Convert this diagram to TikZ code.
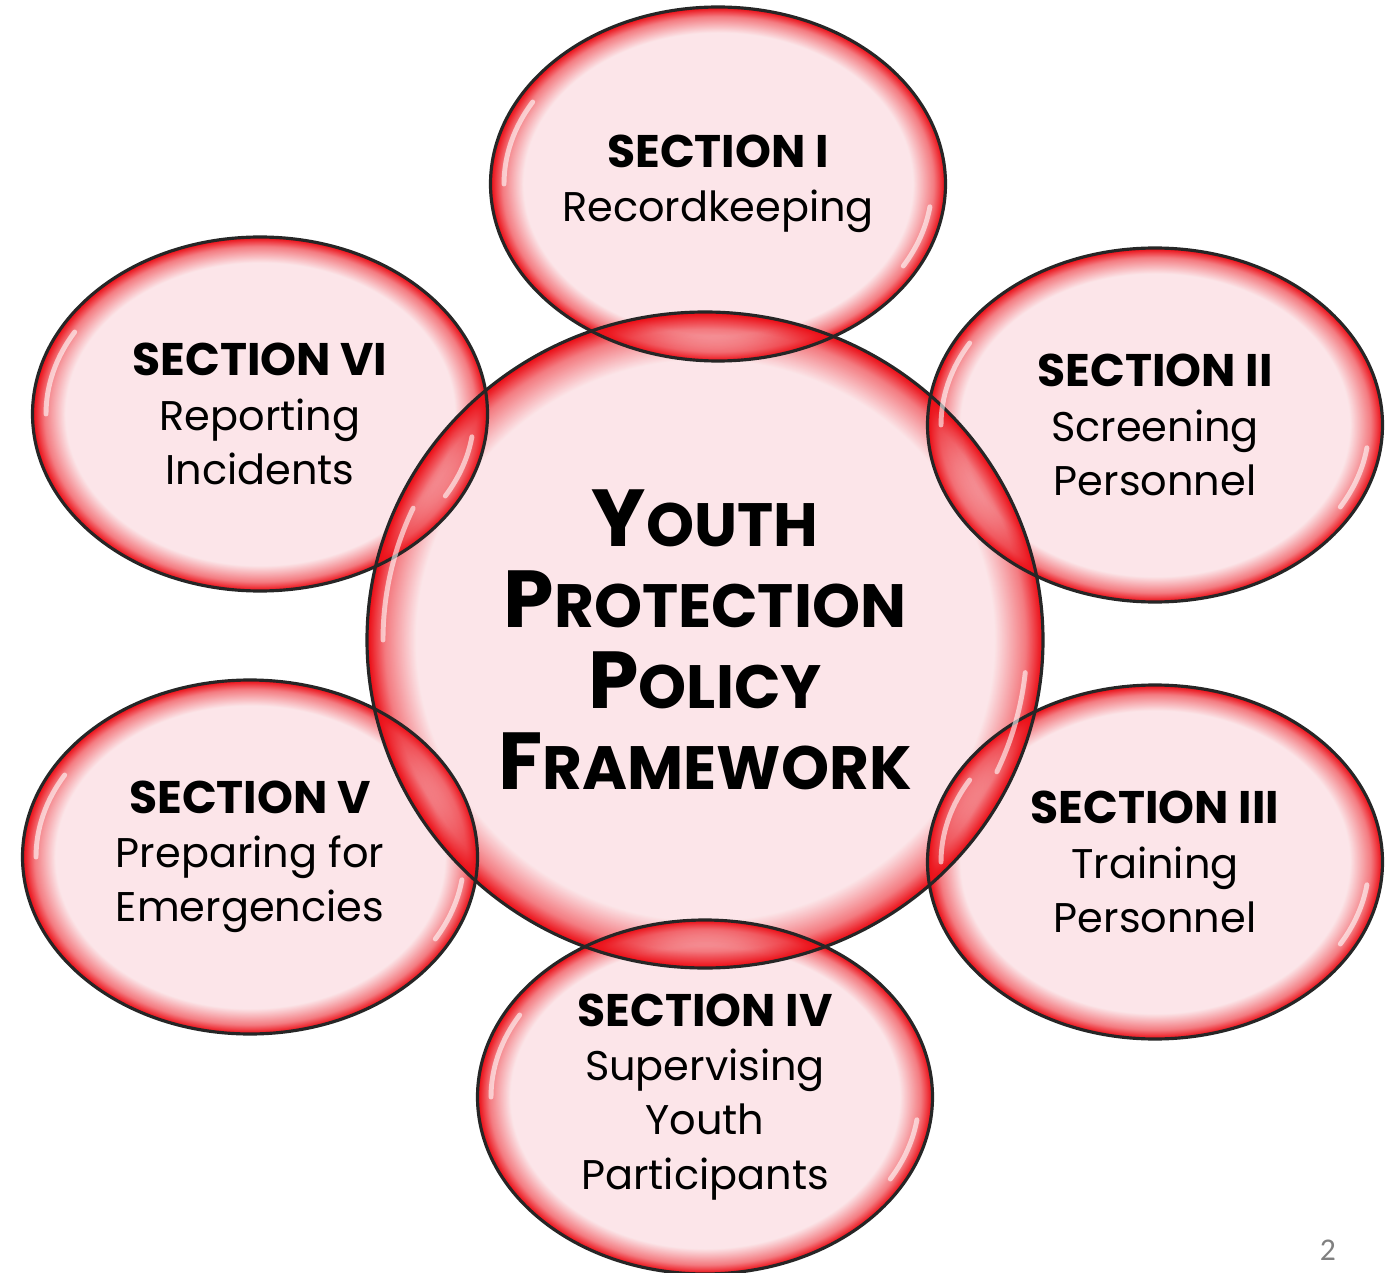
\documentclass[tikz,border=0pt]{standalone}
\usepackage{fontspec}
\setmainfont{Poppins}
\newfontfamily\pagefont{Carlito}
\usepackage{tikz}
\usetikzlibrary{shapes.geometric,positioning,fadings}
\usepackage{xcolor}
\definecolor{bubblein}{RGB}{251, 225, 229}
\definecolor{ringred}{RGB}{236, 16, 24}
\definecolor{pagegray}{RGB}{128, 128, 128}

\pgfdeclareradialshading{ringmask}{\pgfpoint{0bp}{0bp}}{%
  color(0bp)=(black); color(21.3bp)=(black); color(23.6bp)=(black!50!white);
  color(24.8bp)=(white); color(25bp)=(white); color(50bp)=(white)}
\begin{tikzfadingfrompicture}[name=ringfade]
  \shade[shading=ringmask] (-25bp,-25bp) rectangle (25bp,25bp);
\end{tikzfadingfrompicture}

\newcommand{\sechead}[1]{{\fontsize{13}{15.4}\selectfont\bfseries #1}}
\newcommand{\hubword}[2]{#1{\fontsize{17.4}{23}\selectfont #2}}

\begin{document}
\begin{tikzpicture}[
    sect/.style={ellipse, fill=bubblein, fill opacity=0.85, text opacity=1,
      minimum width=4.55cm, minimum height=3.54cm,
      inner sep=0pt, align=center, font=\fontsize{11.8}{15.4}\selectfont},
    hub/.style={sect, minimum width=6.76cm, minimum height=6.56cm,
      font=\fontsize{23}{23}\selectfont\bfseries},
    ring/.style={fill=ringred, path fading=ringfade},
    rim/.style={draw=black!85, line width=0.9pt},
    gloss/.style={white, line width=1.4pt, opacity=0.6, line cap=round}
]
    \useasboundingbox (0, 0) rectangle (13.94, 12.72);

    \node[hub] (hub) at (7.05, 6.32) {\hubword{Y}{OUTH}\\ \hubword{P}{ROTECTION}\\
      \hubword{P}{OLICY}\\ \hubword{F}{RAMEWORK}};

    \node[sect] (sec1) at (7.18, 10.88) {\sechead{SECTION I}\\ Recordkeeping};
    \node[sect] (sec2) at (11.55, 8.47) {\sechead{SECTION II}\\ Screening\\ Personnel};
    \node[sect] (sec3) at (11.55, 4.10) {\sechead{SECTION III}\\ Training\\ Personnel};
    \node[sect] (sec4) at (7.05, 1.75) {\sechead{SECTION IV}\\ Supervising\\ Youth\\ Participants};
    \node[sect] (sec5) at (2.50, 4.15) {\sechead{SECTION V}\\ Preparing for\\ Emergencies};
    \node[sect] (sec6) at (2.60, 8.58) {\sechead{SECTION VI}\\ Reporting\\ Incidents};

    % red rims, outlines and glossy streaks on top
    \foreach \n/\rx/\ry in {hub/3.38/3.28, sec1/2.275/1.77, sec2/2.275/1.77, sec3/2.275/1.77,
                            sec4/2.275/1.77, sec5/2.275/1.77, sec6/2.275/1.77}
        \fill[ring] (\n.center) ellipse [x radius=\rx, y radius=\ry];
    \foreach \n/\rx/\ry in {hub/3.38/3.28, sec1/2.275/1.77, sec2/2.275/1.77, sec3/2.275/1.77,
                            sec4/2.275/1.77, sec5/2.275/1.77, sec6/2.275/1.77}
        \draw[rim] (\n.center) ellipse [x radius=\rx, y radius=\ry];

    \foreach \n in {sec1, sec2, sec3, sec4, sec5, sec6} {
        \draw[gloss, shift={(\n.center)}] (150:2.14 and 1.64) arc[start angle=150, end angle=180, x radius=2.14, y radius=1.64];
        \draw[gloss, shift={(\n.center)}] (-30:2.14 and 1.64) arc[start angle=-30, end angle=-8, x radius=2.14, y radius=1.64];
    }
    \draw[gloss, shift={(hub.center)}] (155:3.22 and 3.12) arc[start angle=155, end angle=180, x radius=3.22, y radius=3.12];
    \draw[gloss, shift={(hub.center)}] (-25:3.22 and 3.12) arc[start angle=-25, end angle=-6, x radius=3.22, y radius=3.12];

    \node[font=\pagefont\fontsize{9}{10}\selectfont, text=pagegray] (page) at (13.28, 0.22) {2};
\end{tikzpicture}
\end{document}
